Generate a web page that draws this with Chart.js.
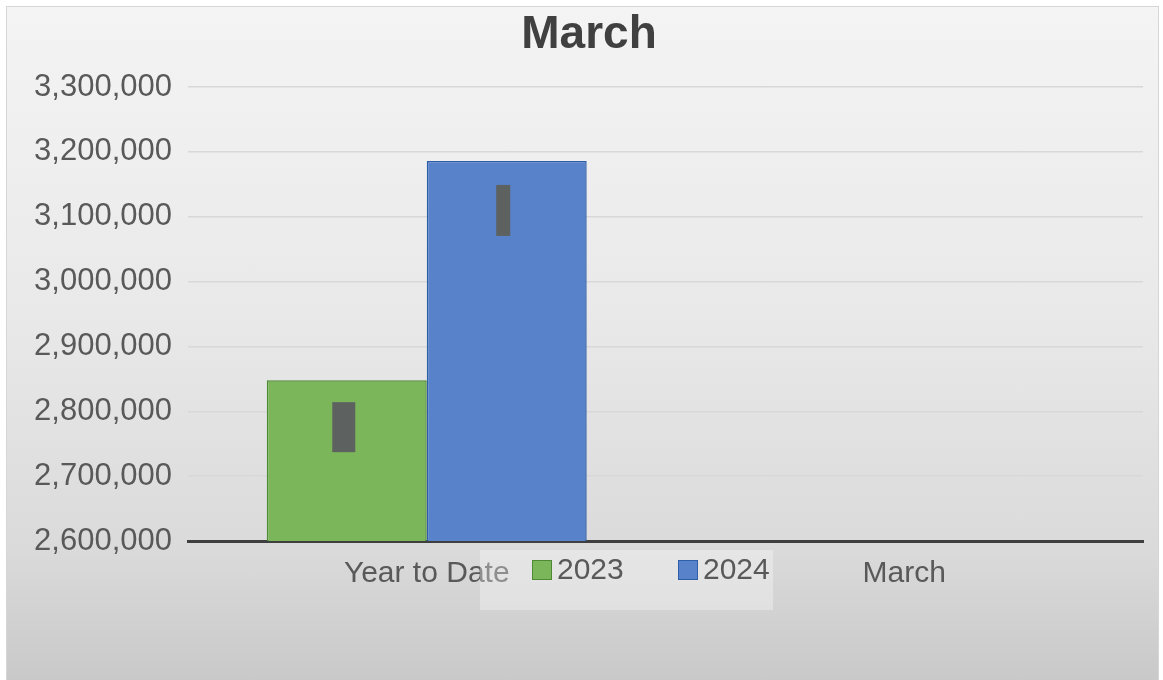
<!DOCTYPE html>
<html>
<head>
<meta charset="utf-8">
<script src="https://cdn.jsdelivr.net/npm/chart.js@4.4.1/dist/chart.umd.min.js"></script>
<style>
  body { margin: 0; background: #fff; }
  #wrap { position: relative; width: 1163px; height: 680px; overflow: hidden; }
  #panel {
    position: absolute; left: 6px; top: 6px; width: 1151px; height: 680px;
    border-left: 1px solid #d6d6d6; border-top: 1px solid #d6d6d6; border-right: 1px solid #d6d6d6;
    background: linear-gradient(to bottom, #f4f4f4 0%, #e9e9e9 45%, #dadada 80%, #c8c8c8 100%);
  }
  #chartBox { position: absolute; left: 0; top: 0; width: 1163px; height: 680px; }
  #legend {
    position: absolute; left: 480px; top: 550px; width: 293px; height: 60px;
    background: rgba(255,255,255,0.32);
  }
  .sw { position: absolute; width: 18px; height: 18px; top: 10px; }
  .lt { position: absolute; top: 4px; font: 30px "Liberation Sans", Arial, sans-serif; line-height: 30px; color: #595959; }
</style>
</head>
<body>
<div id="wrap">
  <div id="panel"></div>
  <div id="chartBox"><canvas id="myChart"></canvas></div>
  <div id="legend"></div>
</div>
<script>
const categories = ['Year to Date', 'March'];
const series2023 = [2848000, null];
const series2024 = [3186000, null];
const seriesNames = ['2023', '2024'];
const yTicks = [2600000, 2700000, 2800000, 2900000, 3000000, 3100000, 3200000, 3300000];

const fills = ['#7cb65b', '#5882c9'];
const edges = ['#4e8a33', '#2f5ea8'];

// dark blocks sitting inside each bar (hidden labels in the original)
const blockPlugin = {
  id: 'blocks',
  afterDatasetsDraw(chart) {
    const ctx = chart.ctx;
    const spec = [{dx: -3, w: 23, top: 22, h: 50}, {dx: -3.5, w: 14, top: 24, h: 51}];
    chart.data.datasets.forEach((ds, i) => {
      const meta = chart.getDatasetMeta(i);
      meta.data.forEach((bar, j) => {
        if (ds.data[j] == null) return;
        const s = spec[i];
        ctx.save();
        ctx.fillStyle = '#5d6260';
        ctx.fillRect(bar.x + s.dx - s.w / 2, bar.y + s.top, s.w, s.h);
        ctx.restore();
      });
    });
  }
};

const ctx = document.getElementById('myChart');

new Chart(ctx, {
  type: 'bar',
  data: {
    labels: categories,
    datasets: [
      { label: seriesNames[0], data: series2023, backgroundColor: fills[0], borderColor: edges[0], borderWidth: 1.5 },
      { label: seriesNames[1], data: series2024, backgroundColor: fills[1], borderColor: edges[1], borderWidth: 1.5 }
    ]
  },
  options: {
    responsive: true,
    maintainAspectRatio: false,
    animation: false,
    layout: { padding: { left: 35, right: 20, top: 0, bottom: 73 } },
    datasets: { bar: { categoryPercentage: 0.67, barPercentage: 1.0 } },
    plugins: {
      legend: { display: false },
      tooltip: { enabled: false },
      title: {
        display: true,
        text: 'March',
        color: '#404040',
        font: { family: '"Liberation Sans", Arial, sans-serif', size: 46, weight: 'bold' },
        padding: { top: 8, bottom: 23.8 }
      }
    },
    scales: {
      x: {
        grid: { display: false, drawTicks: false },
        border: { display: true, color: '#3f3f3f', width: 3 },
        ticks: {
          color: '#595959',
          padding: 15,
          font: { family: '"Liberation Sans", Arial, sans-serif', size: 30 }
        }
      },
      y: {
        min: yTicks[0],
        max: yTicks[yTicks.length - 1],
        afterBuildTicks(scale) { scale.ticks = yTicks.map(v => ({ value: v })); },
        afterFit(scale) { scale.width = 153; },
        grid: { color: '#d8d8d8', lineWidth: 1.5, drawTicks: false },
        border: { display: false },
        ticks: {
          color: '#595959',
          padding: 16,
          font: { family: '"Liberation Sans", Arial, sans-serif', size: 31 },
          callback: v => v.toLocaleString('en-US')
        }
      }
    }
  },
  plugins: [blockPlugin]
});

// legend drawn as html over the axis labels, like the original
const legend = document.getElementById('legend');
const legendPos = [{sw: 52, txt: 77}, {sw: 198, txt: 223}];
seriesNames.forEach((name, i) => {
  const sw = document.createElement('div');
  sw.className = 'sw';
  sw.style.left = legendPos[i].sw + 'px';
  sw.style.background = fills[i];
  sw.style.border = '1px solid ' + edges[i];
  legend.appendChild(sw);
  const t = document.createElement('span');
  t.className = 'lt';
  t.style.left = legendPos[i].txt + 'px';
  t.textContent = name;
  legend.appendChild(t);
});
</script>
</body>
</html>
